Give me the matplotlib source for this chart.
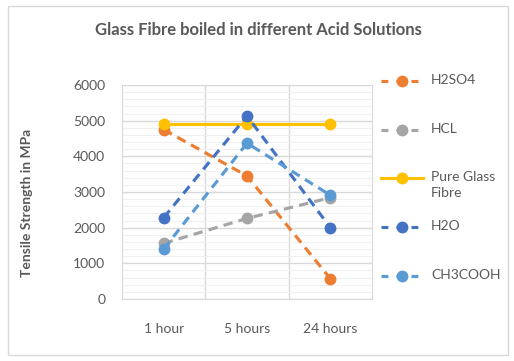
import matplotlib.pyplot as plt
from matplotlib.lines import Line2D
from matplotlib.patches import Rectangle
from matplotlib.ticker import MultipleLocator

# data
categories = ['1 hour', '5 hours', '24 hours']
series_names = ['H2SO4', 'HCL', 'Pure Glass\nFibre', 'H2O', 'CH3COOH']
h2so4 = [4750, 3450, 570]
hcl = [1560, 2260, 2840]
pure_glass = [4920, 4920, 4920]
h2o = [2280, 5130, 2000]
ch3cooh = [1400, 4370, 2910]

colors = ['#ED7D31', '#A5A5A5', '#FFC000', '#4472C4', '#5B9BD5']
styles = ['--', '--', '-', '--', '--']
text_col = '#595959'

plt.rcParams['font.family'] = ['Lato', 'DejaVu Sans']

W, H = 514, 361
fig = plt.figure(figsize=(W / 100, H / 100), dpi=100)

# chart border
fig.patches.append(Rectangle((8 / W, 6 / H), 500 / W, 349 / H, transform=fig.transFigure,
                             fill=False, edgecolor='#D9D9D9', lw=1))

ax = fig.add_axes([122 / W, (H - 299) / H, 250 / W, 214 / H])

x = range(len(categories))
all_series = [h2so4, hcl, pure_glass, h2o, ch3cooh]
for vals, name, c, ls in zip(all_series, series_names, colors, styles):
    line, = ax.plot(x, vals, ls, color=c, lw=2.25, marker='o', markersize=7.5,
                    label=name, zorder=3)
    if ls == '--':
        line.set_dashes((3, 2))

ax.set_xlim(-0.5, 2.5)
ax.set_ylim(0, 6000)
ax.set_xticks(list(x))
ax.set_xticklabels(categories)
ax.yaxis.set_major_locator(MultipleLocator(1000))
ax.yaxis.set_minor_locator(MultipleLocator(200))
ax.set_xticks([0.5, 1.5], minor=True)
ax.grid(True, which='major', axis='y', color='#D9D9D9', lw=1)
ax.grid(True, which='minor', axis='y', color='#F0F0F0', lw=0.8)
ax.grid(True, which='minor', axis='x', color='#D9D9D9', lw=1)
ax.set_axisbelow(True)
for s in ax.spines.values():
    s.set_color('#D9D9D9')
ax.tick_params(which='both', length=0, colors=text_col, labelsize=10)
ax.tick_params(axis='x', pad=17)
ax.tick_params(axis='y', pad=12)

ax.set_ylabel('Tensile Strength in MPa', fontsize=10, fontweight='bold', color=text_col)
ax.yaxis.set_label_coords(-(122 - 33) / 250, (299 - 203) / 214)
fig.text(258 / W, 1 - 30 / H, 'Glass Fibre boiled in different Acid Solutions',
         ha='center', va='center', fontsize=12, fontweight='bold', color=text_col)

# legend on the right, placed like the original
leg_y = [81, 130, 178, 227, 276]
for ln, yy in zip(ax.get_lines(), leg_y):
    fy = 1 - yy / H
    h = Line2D([381 / W, 423 / W], [fy, fy], transform=fig.transFigure,
               color=ln.get_color(), lw=2.25, linestyle=ln.get_linestyle())
    if ln.get_linestyle() == '--':
        h.set_dashes((2.2, 2.6))
    fig.add_artist(h)
    fig.add_artist(Line2D([402 / W], [fy], transform=fig.transFigure, marker='o',
                          markersize=7.5, color=ln.get_color(), linestyle='none'))
    fig.text(431 / W, fy + 7 / H, ln.get_label(), ha='left', va='top', fontsize=10,
             color=text_col, linespacing=1.45)

fig.savefig('out.png', dpi=100)
